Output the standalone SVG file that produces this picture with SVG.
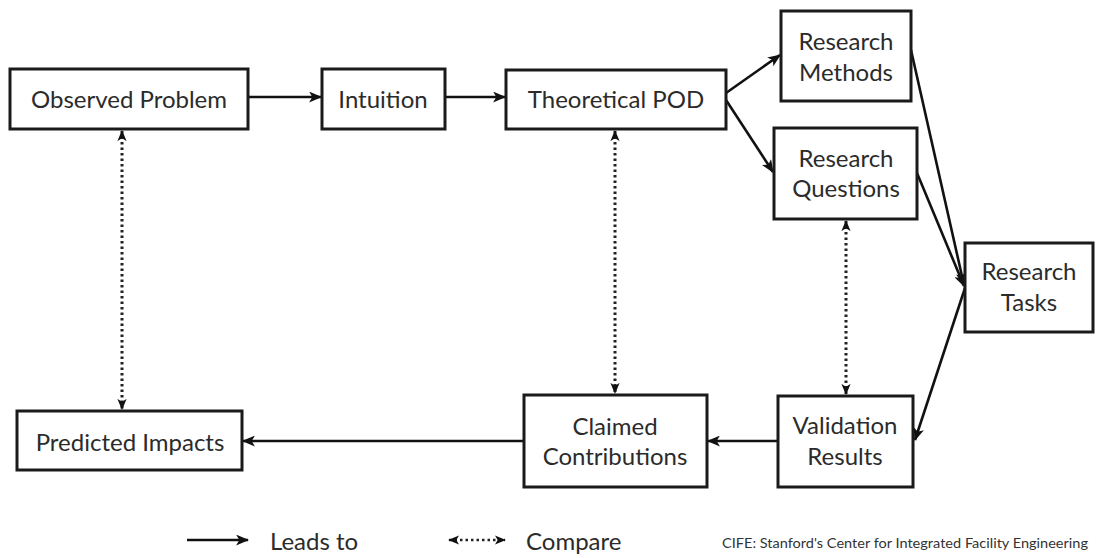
<svg xmlns="http://www.w3.org/2000/svg" width="1096" height="558" viewBox="0 0 1096 558">
<style>
.box{fill:#fff;stroke:#1a1a1a;stroke-width:3}
.lbl{font-family:Lato,"Open Sans","Liberation Sans",sans-serif;font-size:24px;fill:#2b2b2b;text-anchor:middle}
.leg{font-family:Lato,"Open Sans","Liberation Sans",sans-serif;font-size:24px;fill:#2b2b2b}
.lead{fill:none;stroke:#111;stroke-width:2.6;marker-end:url(#ah)}
.cmp{fill:none;stroke:#222;stroke-width:3;stroke-dasharray:2.5 3;marker-start:url(#dh);marker-end:url(#dh)}
</style>
<defs>
<marker id="ah" viewBox="0 0 12 10" refX="11" refY="5" markerWidth="13" markerHeight="11" markerUnits="userSpaceOnUse" orient="auto">
<path d="M0,0 L12,5 L0,10 L3,5 z" fill="#111"/>
</marker>
<marker id="dh" viewBox="0 0 12 10" refX="11" refY="5" markerWidth="11" markerHeight="10" markerUnits="userSpaceOnUse" orient="auto-start-reverse">
<path d="M0,0 L12,5 L0,10 L3,5 z" fill="#111"/>
</marker>
</defs>
<rect width="1096" height="558" fill="#fff"/>
<g id="connectors">
<line class="lead" x1="248" y1="97" x2="321" y2="97"/>
<line class="lead" x1="445" y1="97" x2="505" y2="97"/>
<line class="lead" x1="726" y1="93" x2="780" y2="55"/>
<line class="lead" x1="726" y1="100" x2="773" y2="172"/>
<line class="lead" x1="911" y1="50" x2="964" y2="285"/>
<line class="lead" x1="917" y1="173" x2="964" y2="286"/>
<line class="lead" x1="965" y1="288" x2="915" y2="440"/>
<line class="lead" x1="778" y1="441" x2="708" y2="441"/>
<line class="lead" x1="523" y1="441" x2="243" y2="441"/>
<line class="cmp" x1="122" y1="131" x2="122" y2="409"/>
<line class="cmp" x1="615" y1="131" x2="615" y2="393"/>
<line class="cmp" x1="846" y1="221" x2="846" y2="394"/>
</g>
<g id="n-observed"><rect class="box" x="10" y="69" width="238" height="60"/><text class="lbl" x="129" y="108">Observed Problem</text></g>
<g id="n-intuition"><rect class="box" x="322" y="69" width="123" height="60"/><text class="lbl" x="383" y="108">Intuition</text></g>
<g id="n-theoretical"><rect class="box" x="506" y="70" width="220" height="59"/><text class="lbl" x="616" y="108">Theoretical POD</text></g>
<g id="n-methods"><rect class="box" x="781" y="11" width="130" height="90"/><text class="lbl" x="846" y="50">Research</text><text class="lbl" x="846" y="81">Methods</text></g>
<g id="n-questions"><rect class="box" x="774" y="128" width="143" height="91"/><text class="lbl" x="846" y="167">Research</text><text class="lbl" x="846" y="197">Questions</text></g>
<g id="n-tasks"><rect class="box" x="965" y="243" width="128" height="89"/><text class="lbl" x="1029" y="280">Research</text><text class="lbl" x="1029" y="311">Tasks</text></g>
<g id="n-validation"><rect class="box" x="778" y="396" width="135" height="91"/><text class="lbl" x="845" y="434">Validation</text><text class="lbl" x="845" y="465">Results</text></g>
<g id="n-claimed"><rect class="box" x="524" y="395" width="183" height="92"/><text class="lbl" x="615" y="435">Claimed</text><text class="lbl" x="615" y="465">Contributions</text></g>
<g id="n-predicted"><rect class="box" x="17" y="411" width="225" height="59"/><text class="lbl" x="130" y="451">Predicted Impacts</text></g>
<g id="legend">
<line class="lead" x1="187" y1="540" x2="248" y2="540"/>
<text class="leg" x="270" y="550">Leads to</text>
<line class="cmp" x1="449" y1="540" x2="505" y2="540" style="stroke-width:2.5"/>
<text class="leg" x="526" y="550">Compare</text>
<text x="722" y="548" textLength="366" lengthAdjust="spacingAndGlyphs" style="font-family:Lato,'Liberation Sans',sans-serif;font-size:13px;fill:#333">CIFE: Stanford's Center for Integrated Facility Engineering</text>
</g>
</svg>
